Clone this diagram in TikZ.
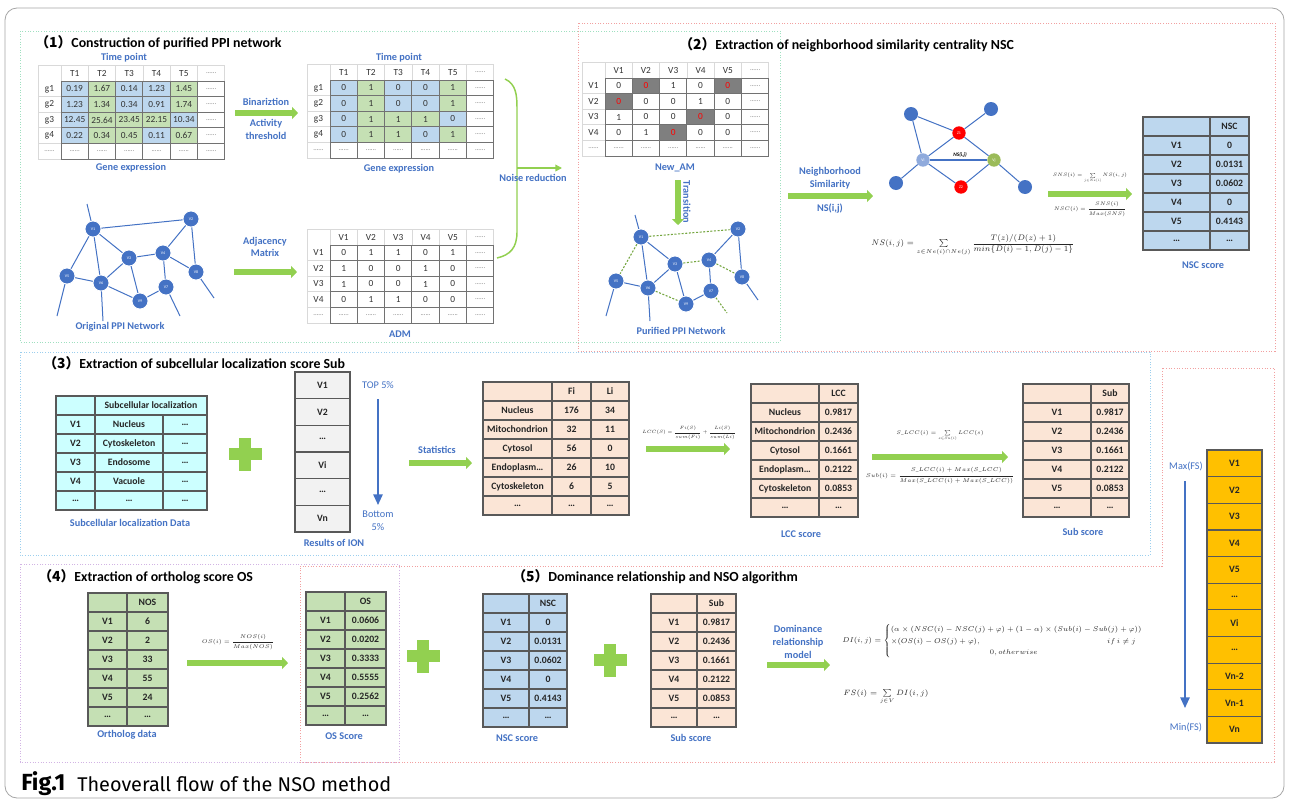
\documentclass[tikz,border=0pt]{standalone}
\usepackage{fix-cm}
\usepackage{amsmath}
\usepackage{fontspec}
\setmainfont{Carlito}
\newfontfamily\cjk{Noto Sans CJK SC}
\newfontfamily\capfont{Fira Sans}
\usetikzlibrary{arrows.meta}
\definecolor{lblue}{HTML}{4472C4}
\definecolor{cellB}{HTML}{BDD7EE}
\definecolor{cellG}{HTML}{C5E0B4}
\definecolor{cellW}{HTML}{FFFFFF}
\definecolor{cellK}{HTML}{7F7F7F}
\definecolor{peach}{HTML}{FBE5D6}
\definecolor{cyanc}{HTML}{CCFFFF}
\definecolor{grayc}{HTML}{F2F2F2}
\definecolor{gold}{HTML}{FFC000}
\definecolor{agreen}{HTML}{92D050}
\definecolor{tabc}{HTML}{595959}
\definecolor{lightl}{HTML}{D9D9D9}
\definecolor{boxgreen}{HTML}{9FE0C0}
\definecolor{boxred}{HTML}{F2A0A0}
\definecolor{boxblue}{HTML}{9CCFEE}
\definecolor{boxpurple}{HTML}{D2B4E4}
\definecolor{vig}{HTML}{9BBB59}
\definecolor{vib}{HTML}{8FAADC}
\newcommand{\mydots}{\textcolor{black!55}{\fontsize{5}{5}\selectfont......}}
\newcommand{\rz}{\textcolor{red}{0}}
\newcommand{\fml}[2]{\scalebox{#1}{$#2$}}
\tikzset{
 lab/.style={font=\fontsize{7.7}{9.5}\selectfont\bfseries, text=lblue, inner sep=0pt, align=center},
 labr/.style={font=\fontsize{7.7}{9.5}\selectfont, text=lblue, inner sep=0pt, align=center},
 ttl/.style={font=\fontsize{10.4}{12}\selectfont\bfseries, anchor=west, inner sep=0pt},
 btxt/.style={font=\fontsize{7.3}{8}\selectfont\bfseries, text=black!85, inner sep=0pt},
 stxt/.style={font=\fontsize{7}{8}\selectfont, text=black!80, inner sep=0pt},
 garrow/.style={draw=agreen, line width=5pt, -{Triangle[length=4.5pt,width=9pt]}},
 gthin/.style={draw=agreen, line width=1.1pt},
 barrow/.style={draw=lblue, line width=1.3pt, -{Triangle[length=8pt,width=7pt]}},
 cellb/.style={draw=tabc, line width=0.9pt},
 secbox/.style={line width=0.6pt, dash pattern=on 0.8pt off 1.2pt},
 pnode/.style={circle, fill=lblue, draw=white, line width=0.6pt, minimum size=12pt, inner sep=0pt, text=white, font=\fontsize{3}{3}\selectfont},
 snode/.style={circle, fill=#1, minimum size=10pt, inner sep=0pt, text=white, font=\fontsize{3}{3}\selectfont},
 pedge/.style={draw=lblue, line width=0.75pt},
 dedge/.style={draw=agreen!80!black, line width=0.8pt, dash pattern=on 1.5pt off 1.2pt},
 formula/.style={font=\fontsize{5.5}{7}\selectfont, inner sep=0pt, text=black!85},
}
% gene-type table: #1 name, #2 x0, #3 y0, #4 colour rows, #5 header, #6 rows
\newcommand{\genetab}[6]{%
\begin{scope}[shift={(#2,#3)}]
 \foreach \rw [count=\ri from 0] in {#4}
   \foreach \cl [count=\ki from 0] in \rw
     \fill[fill=cell\cl] ({23+\ki*27.3},{16+\ri*15.6}) rectangle ({23+(\ki+1)*27.3},{16+(\ri+1)*15.6});
 \draw[lightl, line width=0.5pt] (0,0) rectangle (186.8,94);
 \foreach \ki in {0,...,6} \draw[lightl, line width=0.5pt] ({23+\ki*27.3},0) -- ({23+\ki*27.3},16);
 \foreach \ri in {1,...,5} \draw[lightl, line width=0.5pt] (0,{16+\ri*15.6}) -- (23,{16+\ri*15.6});
 \foreach \ki in {0,...,6} \draw[tabc!85, line width=0.7pt] ({23+\ki*27.3},16) -- ({23+\ki*27.3},94);
 \foreach \ri in {0,...,5} \draw[tabc!85, line width=0.7pt] (23,{16+\ri*15.6}) -- (186.8,{16+\ri*15.6});
 \foreach \hh [count=\ki from 0] in {#5} \node[stxt] (#1-h\ki) at ({23+\ki*27.3+13.65},8.5) {\hh};
 \foreach \pl/\pa/\pb/\pc/\pd/\pe [count=\ri from 0] in {#6} {
   \node[stxt] (#1-r\ri) at (11.5,{16+\ri*15.6+7.8}) {\pl};
   \foreach \vv [count=\ki from 0] in {\pa,\pb,\pc,\pd,\pe,\mydots}
     \node[stxt] (#1-\ri-\ki) at ({23+\ki*27.3+13.65},{16+\ri*15.6+7.8}) {\vv};
 }
\end{scope}}
% two-column bold table: #1 x0 #2 x1 #3 x2 #4 y0 #5 fill #6 name #7 rows
\newcommand{\tabtwo}[7]{%
 \foreach \pa/\pb [count=\ii from 0] in {#7} {
  \draw[cellb, fill=#5] (#1,{#4+19*\ii}) rectangle (#2,{#4+19*\ii+19});
  \draw[cellb, fill=#5] (#2,{#4+19*\ii}) rectangle (#3,{#4+19*\ii+19});
  \node[btxt] (#6-\ii-a) at ({(#1+#2)/2},{#4+19*\ii+9.5}) {\pa};
  \node[btxt] (#6-\ii-b) at ({(#2+#3)/2},{#4+19*\ii+9.5}) {\pb};
 }}
\newcommand{\tabthree}[8]{%
 \foreach \pa/\pb/\pc [count=\ii from 0] in {#8} {
  \draw[cellb, fill=#6] (#1,{#5+19*\ii}) rectangle (#2,{#5+19*\ii+19});
  \draw[cellb, fill=#6] (#2,{#5+19*\ii}) rectangle (#3,{#5+19*\ii+19});
  \draw[cellb, fill=#6] (#3,{#5+19*\ii}) rectangle (#4,{#5+19*\ii+19});
  \node[btxt] (#7-\ii-a) at ({(#1+#2)/2},{#5+19*\ii+9.5}) {\pa};
  \node[btxt] (#7-\ii-b) at ({(#2+#3)/2},{#5+19*\ii+9.5}) {\pb};
  \node[btxt] (#7-\ii-c) at ({(#3+#4)/2},{#5+19*\ii+9.5}) {\pc};
 }}
\newcommand{\bigplus}[2]{%
 \fill[agreen] ({#1-16.5},{#2-6}) rectangle ({#1+16.5},{#2+6});
 \fill[agreen] ({#1-6},{#2-16.5}) rectangle ({#1+6},{#2+16.5});}

\begin{document}
\begin{tikzpicture}[x=0.75pt,y=-0.75pt]
\useasboundingbox (0,0) rectangle (1289,803);
\fill[white] (0,0) rectangle (1289,803);
\draw[black!35, line width=0.6pt, rounded corners=9pt] (5,8) rectangle (1284,798);

% ---------- section boxes ----------
\draw[secbox, draw=boxgreen] (20,31) rectangle (780,342);
\draw[secbox, draw=boxred] (578,23) rectangle (1275,351);
\draw[secbox, draw=boxblue] (20,352) rectangle (1150,555);
\draw[secbox, draw=boxpurple] (20,564) rectangle (399,762);
\draw[secbox, draw=boxred] (300,566) -- (1162,566) -- (1162,368) -- (1274,368) -- (1274,762) -- (300,762) -- cycle;

% ---------- section 1 ----------
\node[ttl] (s1) at (35,43) {{\cjk （1）}Construction of purified PPI network};
\node[lab] (tp1) at (124,58) {Time point};
\genetab{ga}{38}{65}{{B,G,B,B,G,W},{B,G,B,B,G,W},{B,G,G,G,B,W},{B,G,G,B,G,W},{W,W,W,W,W,W}}{T1,T2,T3,T4,T5,\mydots}{g1/0.19/1.67/0.14/1.23/1.45, g2/1.23/1.34/0.34/0.91/1.74, g3/12.45/25.64/23.45/22.15/10.34, g4/0.22/0.34/0.45/0.11/0.67, \mydots/\mydots/\mydots/\mydots/\mydots/\mydots}
\node[lab] (gel1) at (131,168) {Gene expression};
\node[lab] (bin) at (266,102) {Binariztion};
\coordinate (binA) at (235,113);
\coordinate (binB) at (298,113);
\draw[garrow] (binA) -- (binB);
\node[lab] (act) at (266,124) {Activity};
\node[lab] (thr) at (266,136) {threshold};

\node[lab] (tp2) at (399,58) {Time point};
\genetab{gb}{307}{64}{{B,G,B,B,G,W},{B,G,B,B,G,W},{B,G,G,G,B,W},{B,G,G,B,G,W},{W,W,W,W,W,W}}{T1,T2,T3,T4,T5,\mydots}{g1/0/1/0/0/1, g2/0/1/0/0/1, g3/0/1/1/1/0, g4/0/1/1/0/1, \mydots/\mydots/\mydots/\mydots/\mydots/\mydots}
\node[lab] (gel2) at (399,169) {Gene expression};

% original PPI network
\node[pnode] (o1) at (93,229) {V1};
\node[pnode] (o2) at (191,219) {V2};
\node[pnode] (o3) at (129,258) {V3};
\node[pnode] (o4) at (163,253) {V4};
\node[pnode] (o5) at (67,276) {V5};
\node[pnode] (o6) at (101,283) {V6};
\node[pnode] (o7) at (166,287) {V7};
\node[pnode] (o8) at (196,272) {V8};
\node[pnode] (o9) at (140,301) {V9};
\coordinate (o1e) at (87,204);
\coordinate (o5e) at (57,316);
\coordinate (o6e) at (103,321);
\coordinate (o7e) at (180,316);
\coordinate (o8e) at (214,298);
\foreach \u/\v in {o1/o2,o1/o3,o1/o6,o1/o5,o3/o4,o3/o6,o3/o9,o4/o2,o4/o7,o4/o8,o2/o8,o5/o6,o6/o9,o9/o7,o1/o1e,o5/o5e,o6/o6e,o7/o7e,o8/o8e}
  \draw[pedge] (\u) -- (\v);
\node[lab] (opn) at (120,327) {Original PPI Network};

\node[lab] (adjl) at (265,247) {Adjacency\\Matrix};
\coordinate (adjA) at (234,272);
\coordinate (adjB) at (297,272);
\draw[garrow] (adjA) -- (adjB);
\genetab{adm}{307}{229}{{W,W,W,W,W,W},{W,W,W,W,W,W},{W,W,W,W,W,W},{W,W,W,W,W,W},{W,W,W,W,W,W}}{V1,V2,V3,V4,V5,\mydots}{V1/0/1/1/0/1, V2/1/0/0/1/0, V3/1/0/0/1/0, V4/0/1/1/0/0, \mydots/\mydots/\mydots/\mydots/\mydots/\mydots}
\node[lab] (adml) at (400,334) {ADM};

% noise reduction
\coordinate (nrTop) at (505,79);
\coordinate (nrBot) at (497,258);
\coordinate (nrMid) at (517,168);
\coordinate (nrEnd) at (562,168);
\draw[gthin] (nrTop) .. controls (516,84) and (517,95) .. (517,108) -- (517,232) .. controls (517,248) and (510,255) .. (nrBot);
\draw[gthin, -{Triangle[length=5pt,width=5pt]}] (nrMid) -- (nrEnd);
\node[lab] (nrl) at (533,178) {Noise reduction};

% ---------- section 2 ----------
\node[ttl] (s2) at (679,45) {{\cjk （2）}Extraction of neighborhood similarity centrality NSC};
\genetab{nam}{582}{62}{{W,K,W,W,K,W},{K,W,W,W,W,W},{W,W,W,K,W,W},{W,W,K,W,W,W},{W,W,W,W,W,W}}{V1,V2,V3,V4,V5,\mydots}{V1/0/\rz/1/0/\rz, V2/\rz/0/0/1/0, V3/1/0/0/\rz/0, V4/0/1/\rz/0/0, \mydots/\mydots/\mydots/\mydots/\mydots/\mydots}
\node[lab] (naml) at (675,168) {New\_AM};
\coordinate (trA) at (678,180);
\coordinate (trB) at (678,225);
\draw[garrow] (trA) -- (trB);
\node[lab, rotate=-90] (trl) at (687,202) {Transition};

% purified network
\node[pnode] (p1) at (641,237) {V1};
\node[pnode] (p2) at (738,229) {V2};
\node[pnode] (p3) at (675,264) {V3};
\node[pnode] (p4) at (709,260) {V4};
\node[pnode] (p5) at (616,281) {V5};
\node[pnode] (p6) at (648,288) {V6};
\node[pnode] (p7) at (711,291) {V7};
\node[pnode] (p8) at (742,277) {V8};
\node[pnode] (p9) at (686,304) {V9};
\coordinate (p1e) at (635,215);
\coordinate (p5e) at (606,316);
\coordinate (p6e) at (650,321);
\coordinate (p7e) at (727,313);
\coordinate (p8e) at (758,300);
\foreach \u/\v in {p1/p3,p1/p6,p3/p6,p3/p9,p4/p2,p4/p7,p2/p8,p5/p6,p9/p7,p1/p1e,p5/p5e,p6/p6e,p8/p8e}
  \draw[pedge] (\u) -- (\v);
\foreach \u/\v in {p1/p2,p1/p5,p3/p4,p4/p8,p6/p9,p7/p7e}
  \draw[dedge] (\u) -- (\v);
\node[lab] (ppn) at (681,331) {Purified PPI Network};

\node[lab] (nsl) at (830,178) {Neighborhood\\Similarity};
\coordinate (nsA) at (788,196);
\coordinate (nsB) at (873,196);
\draw[garrow] (nsA) -- (nsB);
\node[lab] (nsij) at (830,209) {NS(i,j)};

% similarity network
\node[snode=lblue, minimum size=10.5pt] (ntl) at (911,114) {};
\node[snode=lblue, minimum size=10.5pt] (ntr) at (991,109) {};
\node[snode=red] (nz1) at (959,133) {Z1};
\node[snode=vib] (nvi) at (923,160) {Vi};
\node[snode=vig] (nvj) at (994,160) {Vj};
\node[snode=red] (nz2) at (961,187) {Z2};
\node[snode=lblue, minimum size=10.5pt] (nbl) at (896,183) {};
\node[snode=lblue, minimum size=10.5pt] (nbr) at (1025,187) {};
\foreach \u/\v in {ntl/nvi,ntl/nz1,ntr/nz1,nz1/nvi,nz1/nvj,nvi/nz2,nz2/nvj,nvi/nbl,nvj/nbr}
  \draw[pedge] (\u) -- (\v);
\draw[draw=lblue, line width=1.3pt] (nvi) -- (nvj);
\node[font=\fontsize{4}{4}\selectfont\bfseries\itshape, inner sep=0pt] (nsedge) at (960,155) {NS(i,j)};
\node[formula, anchor=west, font=\fontsize{7.5}{9}\selectfont] (fns) at (871,245) {\fml{0.8}{NS(i,j)=\sum\limits_{z\in Ne(i)\cap Ne(j)}\dfrac{T(z)/(D(z)+1)}{min\{D(i)-1,D(j)-1\}}}};

\node[formula] (fsns) at (1090,178) {\fml{0.66}{SNS(i)=\sum\limits_{j\in Ne(i)} NS(i,j)}};
\coordinate (snsA) at (1048,194);
\coordinate (snsB) at (1132,194);
\draw[garrow] (snsA) -- (snsB);
\node[formula] (fnsc) at (1090,209) {\fml{0.7}{NSC(i)=\dfrac{SNS(i)}{Max(SNS)}}};
\tabtwo{1143}{1210}{1249}{117}{cellB}{nsca}{/NSC, V1/0, V2/0.0131, V3/0.0602, V4/0, V5/0.4143, \ldots/\ldots}
\node[lab] (nscl) at (1203,265) {NSC score};

% ---------- section 3 ----------
\node[ttl] (s3) at (43,363) {{\cjk （3）}Extraction of subcellular localization score Sub};
\draw[cellb, fill=cyanc] (56,396) rectangle (95,415);
\draw[cellb, fill=cyanc] (95,396) rectangle (207,415);
\node[btxt] (scl-h) at (151,405.5) {Subcellular localization};
\tabthree{56}{95}{163}{207}{415}{cyanc}{scl}{V1/Nucleus/\ldots, V2/Cytoskeleton/\ldots, V3/Endosome/\ldots, V4/Vacuole/\ldots, \ldots/\ldots/\ldots}
\node[lab] (scll) at (130,523) {Subcellular localization Data};
\bigplus{245}{454}
\foreach \vv [count=\ii from 0] in {V1,V2,\ldots,Vi,\ldots,Vn} {
  \draw[cellb, fill=grayc] (295,{372+26.67*\ii}) rectangle (350,{372+26.67*\ii+26.67});
  \node[btxt] (ion-\ii) at (322.5,{372+26.67*\ii+13.3}) {\vv};
}
\node[lab] (ionl) at (334,543) {Results of ION};
\node[labr] (top) at (378,385) {TOP 5\%};
\coordinate (topA) at (378,399);
\coordinate (topB) at (378,505);
\draw[barrow] (topA) -- (topB);
\node[labr] (bot) at (378,521) {Bottom\\5\%};
\node[lab] (stl) at (437,450) {Statistics};
\coordinate (stA) at (409,463);
\coordinate (stB) at (472,463);
\draw[garrow] (stA) -- (stB);
\tabthree{483}{552}{591}{629}{382}{peach}{fili}{/Fi/Li, Nucleus/176/34, Mitochondrion/32/11, Cytosol/56/0, Endoplasm\ldots/26/10, Cytoskeleton/6/5, \ldots/\ldots/\ldots}
\node[formula] (flcc) at (689,433) {\fml{0.63}{LCC(S)=\dfrac{Fi(S)}{sum(Fi)}+\dfrac{Li(S)}{sum(Li)}}};
\coordinate (lcA) at (646,449);
\coordinate (lcB) at (730,449);
\draw[garrow] (lcA) -- (lcB);
\tabtwo{751}{819}{858}{384}{peach}{lcc}{/LCC, Nucleus/0.9817, Mitochondrion/0.2436, Cytosol/0.1661, Endoplasm\ldots/0.2122, Cytoskeleton/0.0853, \ldots/\ldots}
\node[lab] (lccl) at (801,534) {LCC score};
\node[formula] (fslcc) at (940,436) {\fml{0.72}{S\_LCC(i)=\sum\limits_{s\in Su(i)} LCC(s)}};
\coordinate (sbA) at (872,457);
\coordinate (sbB) at (1008,457);
\draw[garrow] (sbA) -- (sbB);
\node[formula] (fsub) at (940,476) {\fml{0.76}{Sub(i)=\dfrac{S\_LCC(i)+Max(S\_LCC)}{Max(S\_LCC(i)+Max(S\_LCC))}}};
\tabtwo{1023}{1091}{1129}{384}{peach}{suba}{/Sub, V1/0.9817, V2/0.2436, V3/0.1661, V4/0.2122, V5/0.0853, \ldots/\ldots}
\node[lab] (subl) at (1083,532) {Sub score};

% ---------- final ranking column ----------
\foreach \vv [count=\ii from 0] in {V1,V2,V3,V4,V5,\ldots,Vi,\ldots,Vn-2,Vn-1,Vn} {
  \draw[cellb, fill=gold] (1207,{450+26.64*\ii}) rectangle (1262,{450+26.64*\ii+26.64});
  \node[btxt] (fs-\ii) at (1234.5,{450+26.64*\ii+13.3}) {\vv};
}
\node[labr] (maxl) at (1186,466) {Max(FS)};
\coordinate (mxA) at (1185,481);
\coordinate (mxB) at (1185,708);
\draw[barrow] (mxA) -- (mxB);
\node[labr] (minl) at (1186,727) {Min(FS)};

% ---------- section 4 ----------
\node[ttl] (s4) at (38,577) {{\cjk （4）}Extraction of ortholog score OS};
\tabtwo{88}{127}{168}{593}{cellG}{nos}{/NOS, V1/6, V2/2, V3/33, V4/55, V5/24, \ldots/\ldots}
\node[lab] (nosl) at (127,735) {Ortholog data};
\node[formula] (fos) at (238,642) {\fml{0.75}{OS(i)=\dfrac{NOS(i)}{Max(NOS)}}};
\coordinate (osA) at (187,663);
\coordinate (osB) at (288,663);
\draw[garrow] (osA) -- (osB);
\tabtwo{306}{345}{386}{592}{cellG}{os}{/OS, V1/0.0606, V2/0.0202, V3/0.3333, V4/0.5555, V5/0.2562, \ldots/\ldots}
\node[lab] (osl) at (344,736) {OS Score};
\bigplus{423}{656}

% ---------- section 5 ----------
\node[ttl] (s5) at (512,577) {{\cjk （5）}Dominance relationship and NSO algorithm};
\tabtwo{483}{529}{567}{594}{cellB}{nscb}{/NSC, V1/0, V2/0.0131, V3/0.0602, V4/0, V5/0.4143, \ldots/\ldots}
\node[lab] (nscl2) at (517,738) {NSC score};
\bigplus{610}{660}
\tabtwo{651}{697}{736}{594}{peach}{subb}{/Sub, V1/0.9817, V2/0.2436, V3/0.1661, V4/0.2122, V5/0.0853, \ldots/\ldots}
\node[lab] (subl2) at (691,738) {Sub score};
\node[lab] (doml) at (798,642) {Dominance\\relationship\\model};
\coordinate (dmA) at (767,665);
\coordinate (dmB) at (830,665);
\draw[garrow] (dmA) -- (dmB);
\node[formula, anchor=west, font=\fontsize{6.6}{8}\selectfont] (fdi) at (842,641) {\renewcommand{\arraystretch}{1.35}\fml{0.8}{DI(i,j)=\left\{\begin{array}{@{}l@{}}
 (\alpha\times(NSC(i)-NSC(j)+\varphi)+(1-\alpha)\times(Sub(i)-Sub(j)+\varphi))\\
 \times(OS(i)-OS(j)+\varphi),\hspace{118pt} if\ i\neq j\\
 \hspace{93pt}0,otherwise
 \end{array}\right.}};
\node[formula, anchor=west, font=\fontsize{6.6}{8}\selectfont] (ffs) at (843,697) {\fml{0.87}{FS(i)=\sum\limits_{j\in V} DI(i,j)}};

% ---------- caption ----------
\node[anchor=west, inner sep=0pt, font=\capfont\fontsize{17.5}{19}\selectfont\bfseries] (cap1) at (21,784) {Fig.1};
\node[anchor=west, inner sep=0pt, font=\capfont\fontsize{14.9}{18}\selectfont] (cap2) at (77,784) {Theoverall flow of the NSO method};
\end{tikzpicture}
\end{document}
